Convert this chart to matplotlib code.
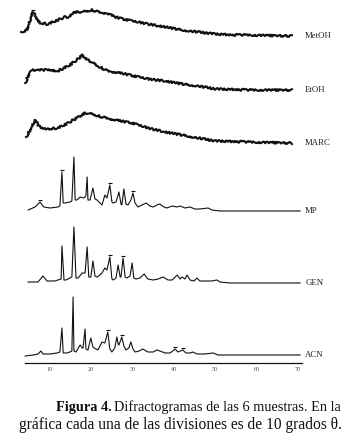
import numpy as np
import matplotlib
matplotlib.use("Agg")
import matplotlib.pyplot as plt

# 2-theta (deg) and intensity (a.u.)
metoh_2t = [3.0, 4.4, 5.2, 5.9, 6.6, 7.6, 9.5, 11.9, 13.6, 14.8, 15.6, 17.8, 20.2, 22.6, 23.8,
            25.7, 29.9, 33.7, 37.9, 42.0, 45.9, 50.0, 54.1, 58.0, 68.6]
metoh_i = [40, 60, 160, 240, 180, 130, 120, 160, 190, 190, 240, 240, 260, 230, 230,
           190, 150, 120, 90, 60, 40, 20, 10, 10, 0]

etoh_2t = [4.0, 5.2, 5.6, 9.5, 11.9, 14.4, 16.5, 17.8, 19.2, 21.6, 24.0, 28.2, 33.7, 37.9,
           42.0, 45.9, 50.0, 58.0, 68.6]
etoh_i = [70, 190, 200, 200, 190, 240, 300, 350, 300, 240, 190, 160, 110, 90,
          60, 40, 10, 0, 0]

marc_2t = [4.2, 5.2, 6.4, 7.6, 9.5, 11.9, 14.4, 16.8, 18.5, 20.2, 22.6, 25.7, 29.9, 33.7,
           37.9, 42.0, 45.9, 50.0, 58.0, 68.6]
marc_i = [60, 130, 230, 150, 140, 150, 200, 260, 300, 290, 260, 230, 200, 150,
          110, 80, 50, 20, 10, 0]

mp_2t = [4.7, 6.4, 7.6, 8.5, 10.0, 11.9, 12.4, 12.9, 13.2, 13.6, 14.8, 15.3, 15.8, 16.1,
         16.5, 17.3, 18.2, 18.7, 19.0, 19.2, 19.7, 20.4, 20.9, 21.4, 22.1, 22.6, 23.3, 23.8,
         24.5, 25.0, 25.3, 26.0, 26.7, 27.2, 27.4, 27.9, 28.4, 28.9, 29.6, 30.1, 30.6, 31.3,
         32.3, 33.3, 34.2, 35.0, 35.9, 36.6, 37.6, 38.3, 39.6, 40.8, 41.5, 42.7, 43.9, 45.1,
         46.3, 48.3, 49.2, 51.2, 70.6]
mp_i = [10, 40, 90, 40, 30, 40, 50, 390, 80, 80, 90, 100, 540, 110,
        110, 140, 130, 150, 340, 110, 110, 230, 120, 110, 80, 60, 160, 130,
        260, 90, 80, 90, 190, 70, 60, 220, 70, 60, 110, 180, 80, 40,
        60, 80, 50, 40, 60, 70, 40, 30, 50, 40, 50, 30, 40, 20,
        20, 30, 10, 0, 0]

gen_2t = [4.7, 7.1, 8.3, 9.3, 11.2, 11.9, 12.7, 12.9, 13.4, 13.9, 14.8, 15.3, 15.8, 16.3,
          16.8, 17.8, 18.5, 19.0, 19.4, 19.9, 20.4, 20.9, 21.4, 22.1, 22.6, 23.3, 23.8, 24.5,
          25.0, 25.3, 26.0, 26.5, 27.0, 27.2, 27.7, 28.2, 28.6, 29.4, 29.9, 30.3, 30.8, 31.8,
          32.8, 33.7, 35.0, 36.2, 37.4, 38.6, 39.6, 40.8, 41.5, 42.0, 42.7, 43.2, 43.9, 44.9,
          45.6, 46.3, 48.0, 49.2, 50.4, 51.2, 53.6, 70.6]
gen_i = [10, 10, 70, 20, 20, 30, 40, 370, 30, 30, 50, 60, 560, 50,
         50, 100, 100, 360, 60, 60, 220, 70, 60, 80, 100, 150, 130, 260,
         40, 30, 50, 180, 60, 60, 250, 60, 50, 70, 200, 50, 40, 50,
         90, 40, 30, 40, 60, 30, 30, 80, 40, 60, 40, 80, 30, 20,
         50, 20, 20, 20, 30, 10, 0, 0]

acn_2t = [4.0, 5.9, 7.1, 7.8, 8.3, 10.0, 11.7, 12.4, 12.9, 13.2, 14.1, 14.8, 15.3, 15.6,
          15.8, 16.3, 17.3, 17.8, 18.0, 18.5, 18.7, 19.2, 19.9, 20.4, 20.7, 21.6, 22.1, 22.6,
          23.3, 24.0, 24.5, 25.0, 25.7, 26.2, 26.5, 26.7, 27.4, 27.9, 28.4, 29.1, 29.6, 30.1,
          30.6, 31.6, 32.5, 33.7, 35.0, 35.9, 36.6, 37.9, 39.1, 40.3, 41.0, 42.2, 42.9, 43.9,
          44.6, 45.6, 47.5, 49.5, 50.7, 70.6]
acn_i = [-10, 0, 10, 40, 10, 10, 20, 30, 270, 20, 20, 30, 40, 580,
         40, 30, 100, 70, 70, 260, 60, 50, 170, 80, 70, 50, 90, 130,
         120, 230, 60, 30, 70, 180, 110, 100, 180, 90, 50, 70, 130, 60,
         30, 40, 60, 30, 30, 50, 40, 20, 20, 60, 30, 50, 20, 20,
         30, 10, 10, 20, 0, 0]

names = ["MetOH", "EtOH", "MARC", "MP", "GEN", "ACN"]
# peaks tagged with a small bar in the original
marked = {"MetOH": [5.9], "MP": [7.6, 12.9, 24.5, 30.1], "GEN": [24.5, 27.7],
          "ACN": [24.0, 27.4, 40.3, 42.2]}
xticks = [10, 20, 30, 40, 50, 60, 70]

series = [(metoh_2t, metoh_i), (etoh_2t, etoh_i), (marc_2t, marc_i),
          (mp_2t, mp_i), (gen_2t, gen_i), (acn_2t, acn_i)]
offsets = [3270, 2730, 2200, 1520, 800, 80]
amorphous = {"MetOH", "EtOH", "MARC"}

fig = plt.figure(figsize=(3.53, 4.40), dpi=100)
ax = fig.add_axes([25 / 353, 77 / 440, 277 / 353, 363 / 440])
ax.set_xlim(3.95, 71.04)
ax.set_ylim(0, 3630)

for name, (tt, inten), off in zip(names, series, offsets):
    y = np.array(inten) + off
    if name in amorphous:
        line, = ax.plot(tt, y, color="#111111", lw=1.5, solid_joinstyle="round", clip_on=False)
        line.set_sketch_params(scale=1.0, length=2.5, randomness=3)
    else:
        ax.plot(tt, y, color="#111111", lw=0.8, clip_on=False)
    for p in marked.get(name, []):
        k = int(np.argmin(np.abs(np.array(tt) - p)))
        ax.plot(tt[k], y[k] + 25, marker="_", ms=3, mew=0.8, color="#111111", clip_on=False)
    ax.text(71.8, off, name, fontsize=6.3, family="Liberation Serif",
            va="center", ha="left", color="#222222", clip_on=False)

for s in ["top", "right", "left"]:
    ax.spines[s].set_visible(False)
ax.spines["bottom"].set_linewidth(0.9)
ax.spines["bottom"].set_color("#111111")
ax.set_yticks([])
ax.set_xticks(xticks)
ax.set_xticklabels([str(t) for t in xticks])
ax.tick_params(axis="x", length=0, pad=3, labelsize=4.5, labelcolor="#555555")
for lab in ax.get_xticklabels():
    lab.set_family("Liberation Serif")

# caption
r = fig.canvas.get_renderer()
cap_kw = dict(fontsize=10.3, family="Liberation Serif", ha="right", va="center", color="#111111")
t1 = fig.text(341 / 353, 1 - 407 / 440, "Difractogramas de las 6 muestras. En la", **cap_kw)
bb = t1.get_window_extent(renderer=r)
fig.text((bb.x0 - 3) / fig.bbox.width, 1 - 407 / 440, "Figura 4.", weight="bold", **cap_kw)
fig.text(342 / 353, 1 - 425 / 440, "gráfica cada una de las divisiones es de 10 grados θ.",
         **dict(cap_kw, fontsize=11.2))

fig.savefig("out.png", dpi=100)
